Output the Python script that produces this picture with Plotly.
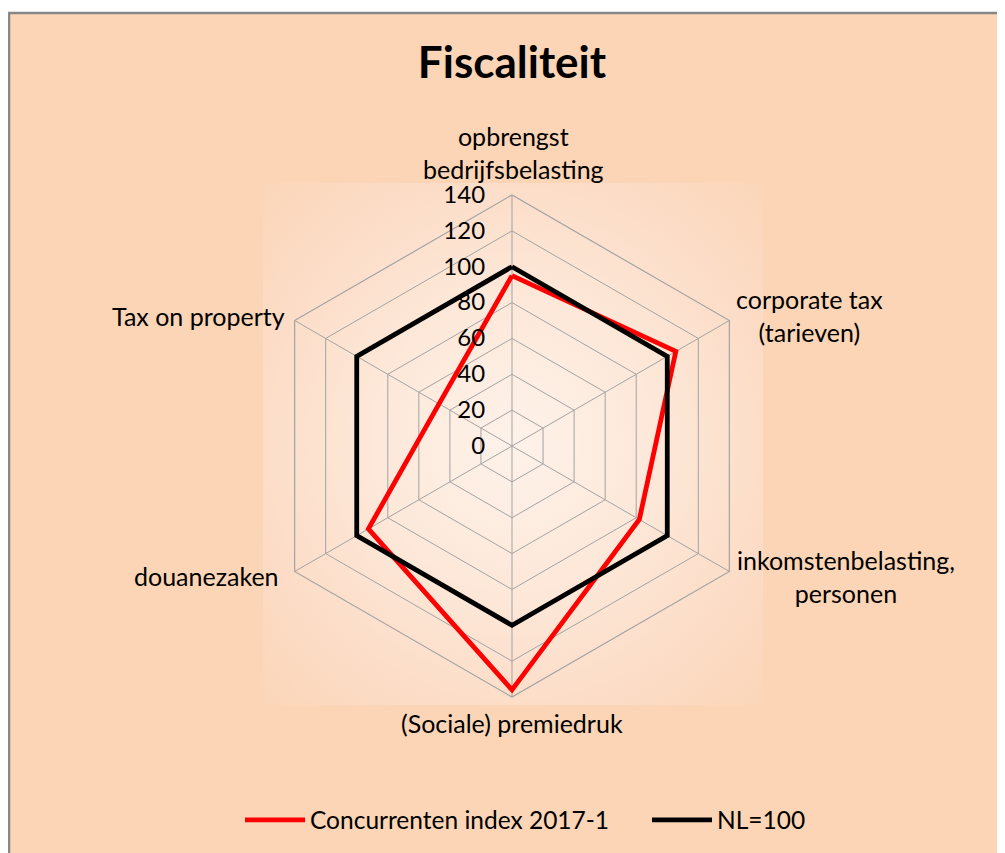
import base64
import plotly.graph_objects as go

# ---- data ----
categories = [
    "opbrengst<br>bedrijfsbelasting",
    "corporate tax<br>(tarieven)",
    "inkomstenbelasting,<br>personen",
    "(Sociale) premiedruk",
    "douanezaken",
    "Tax on property",
]
concurrenten = [95, 105.5, 82, 136, 92.5, 47]
nl_100 = [100, 100, 100, 100, 100, 100]
radial_ticks = [0, 20, 40, 60, 80, 100, 120, 140]
series_names = ["Concurrenten index 2017-1", "NL=100"]

W, H = 1005, 853
FONT = "Lato, Carlito, 'Liberation Sans', sans-serif"
PEACH = "#FBD5B6"
GRID = "#A3A3A3"

def closed(v):
    return list(v) + [v[0]]

def px(x):
    return x / W

def py(y):
    return 1 - y / H

fig = go.Figure()
fig.add_trace(go.Scatterpolar(
    r=closed(concurrenten), theta=closed(categories), mode="lines",
    name=series_names[0], line=dict(color="#FF0000", width=4.8),
))
fig.add_trace(go.Scatterpolar(
    r=closed(nl_100), theta=closed(categories), mode="lines",
    name=series_names[1], line=dict(color="#000000", width=4.8),
))

# radial gradient behind the plot area
svg = (
    '<svg xmlns="http://www.w3.org/2000/svg" width="500" height="520" viewBox="0 0 500 520">'
    '<defs><radialGradient id="g" cx="50%" cy="50%" r="70%">'
    '<stop offset="0%" stop-color="#FEF2EA"/>'
    '<stop offset="40%" stop-color="#FDE8D9"/>'
    '<stop offset="75%" stop-color="#FCDCC6"/>'
    '<stop offset="100%" stop-color="#FBD6B9"/>'
    '</radialGradient></defs>'
    '<rect width="500" height="520" fill="url(#g)"/></svg>'
)
src = "data:image/svg+xml;base64," + base64.b64encode(svg.encode()).decode()

gx0, gx1, gy0, gy1 = 255, 755, 175, 697
fig.add_layout_image(dict(
    source=src, xref="paper", yref="paper",
    x=px(gx0), y=py(gy0), sizex=(gx1 - gx0) / W, sizey=(gy1 - gy0) / H,
    xanchor="left", yanchor="top", sizing="stretch", layer="below",
))

# category labels (centered multi-line, like the original)
label_pos = [
    (505, 144, "center"),
    (801, 307, "center"),
    (838, 568, "center"),
    (504, 715, "center"),
    (273, 568, "right"),
    (279, 308, "right"),
]
annotations = []
for cat, (x, y, al) in zip(categories, label_pos):
    annotations.append(dict(
        text=cat, x=px(x), y=py(y), xref="paper", yref="paper",
        xanchor=al, yanchor="middle", align="center", showarrow=False,
        font=dict(family=FONT, size=25, color="#000000"),
    ))

cx, cy, R = 504, 438, 251
fig.update_layout(
    width=W, height=H,
    margin=dict(l=0, r=0, t=0, b=0, autoexpand=False),
    paper_bgcolor=PEACH,
    font=dict(family=FONT, size=24, color="#000000"),
    title=dict(text="<b>Fiscaliteit</b>", x=px(504), xanchor="center", y=py(55), yanchor="middle",
               font=dict(family=FONT, size=44, color="#000000")),
    shapes=[
        dict(type="rect", xref="paper", yref="paper", x0=-0.01, x1=1.02, y0=py(4), y1=1.01,
             fillcolor="white", line=dict(width=0), layer="below"),
        dict(type="rect", xref="paper", yref="paper", x0=1 / W, x1=1.02, y0=-0.02, y1=py(5),
             fillcolor="rgba(0,0,0,0)", line=dict(color="#878787", width=2.5), layer="below"),
    ],
    annotations=annotations,
    polar=dict(
        domain=dict(x=[px(cx - R), px(cx + R)], y=[py(cy + R), py(cy - R)]),
        bgcolor="rgba(0,0,0,0)",
        gridshape="linear",
        angularaxis=dict(
            rotation=90, direction="clockwise", type="category",
            showline=True, linecolor=GRID, linewidth=1.2,
            gridcolor=GRID, gridwidth=1.2, ticks="", showticklabels=False,
        ),
        radialaxis=dict(
            range=[0, 140], tickvals=radial_ticks, angle=90, tickangle=90,
            side="counterclockwise", showline=False,
            ticks="outside", ticklen=18, tickcolor="rgba(0,0,0,0)",
            gridcolor=GRID, gridwidth=1.2,
            tickfont=dict(family=FONT, size=24, color="#000000"),
        ),
    ),
    legend=dict(orientation="h", x=px(232), xanchor="left", y=py(812), yanchor="middle",
                bgcolor="rgba(0,0,0,0)", font=dict(family=FONT, size=24.5, color="#000000"),
                itemwidth=60, entrywidth=332, tracegroupgap=0),
    showlegend=True,
)

fig.write_html("out.html")
